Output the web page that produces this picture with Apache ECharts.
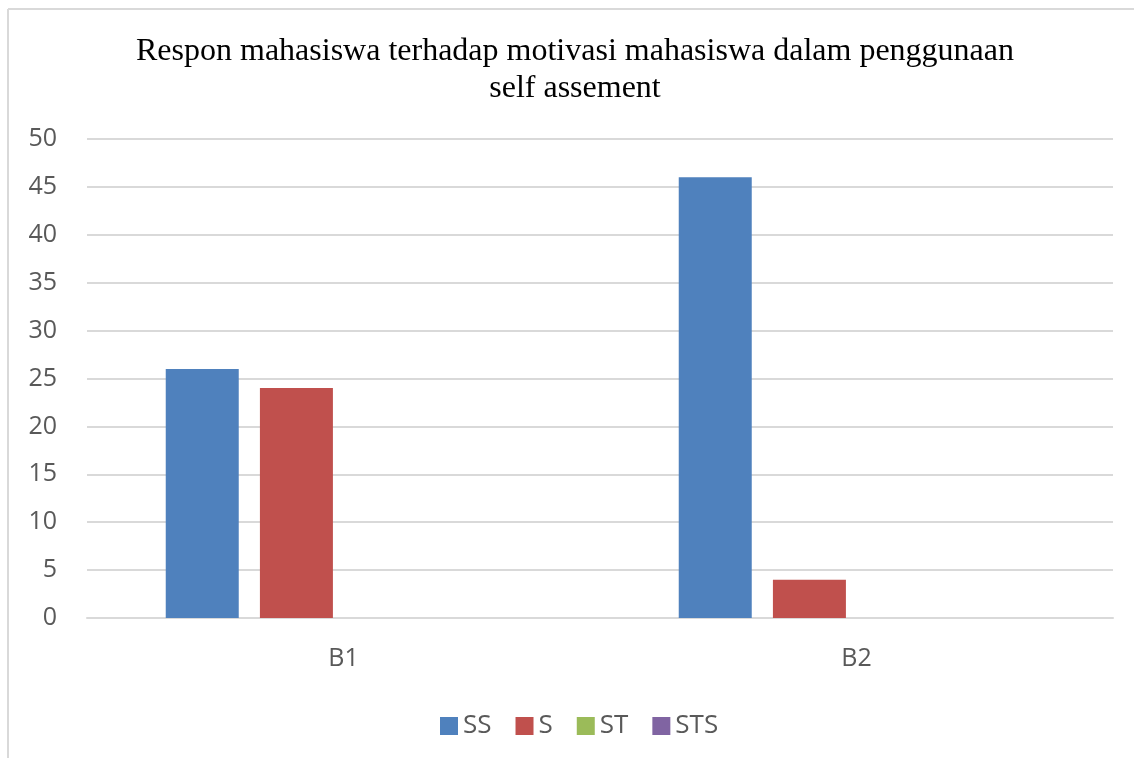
<!DOCTYPE html>
<html>
<head>
<meta charset="utf-8">
<script src="https://cdn.jsdelivr.net/npm/echarts@6/dist/echarts.min.js"></script>
<style>
  html, body { margin: 0; padding: 0; background: #fff; }
  #main { width: 1134px; height: 758px; }
</style>
</head>
<body>
<div id="main"></div>
<script>
// data
var categories = ["B1", "B2"];
var seriesNames = ["SS", "S", "ST", "STS"];
var ssValues = [26, 46];
var sValues = [24, 4];
var stValues = [0, 0];
var stsValues = [0, 0];
var colors = ["#4f81bd", "#c0504d", "#9bbb59", "#8064a2"];
var titleText = "Respon mahasiswa terhadap motivasi mahasiswa dalam penggunaan\nself assement";

var allValues = [ssValues, sValues, stValues, stsValues];
var labelFont = "'Open Sans', 'Liberation Sans', sans-serif";

var myChart = echarts.init(document.getElementById("main"));

var series = seriesNames.map(function (name, i) {
  return {
    name: name,
    type: "bar",
    data: allValues[i],
    barWidth: 73,
    barGap: "29%",
    itemStyle: { color: colors[i] }
  };
});

myChart.setOption({
  animation: false,
  color: colors,
  legend: {
    data: seriesNames,
    left: 435,
    top: 708,
    itemWidth: 18,
    itemHeight: 18,
    itemGap: 24,
    icon: "rect",
    textStyle: { fontFamily: labelFont, fontSize: 26, color: "#595959" }
  },
  grid: { left: 87, right: 21, top: 139, bottom: 140 },
  xAxis: {
    type: "category",
    data: categories,
    axisLine: { lineStyle: { color: "#d9d9d9", width: 2 } },
    axisTick: { show: false },
    axisLabel: { fontFamily: labelFont, fontSize: 25, color: "#595959", margin: 28 }
  },
  yAxis: {
    type: "value",
    min: 0,
    max: 50,
    interval: 5,
    axisLine: { show: false },
    axisTick: { show: false },
    axisLabel: { fontFamily: labelFont, fontSize: 25, color: "#595959", margin: 30 },
    splitLine: { lineStyle: { color: "#d9d9d9", width: 2 } }
  },
  graphic: [
    { type: "line", shape: { x1: 8, y1: 9, x2: 1134, y2: 9 }, style: { stroke: "#d9d9d9", lineWidth: 2 } },
    { type: "line", shape: { x1: 8, y1: 9, x2: 8, y2: 758 }, style: { stroke: "#d9d9d9", lineWidth: 2 } },
    // 标题：两行居中
    {
      type: "text",
      x: 575,
      y: 33,
      style: {
        text: titleText,
        fill: "#000",
        font: "32px 'Liberation Serif', 'Times New Roman', serif",
        lineHeight: 37,
        align: "center",
        verticalAlign: "top"
      }
    }
  ],
  series: series
});
</script>
</body>
</html>
